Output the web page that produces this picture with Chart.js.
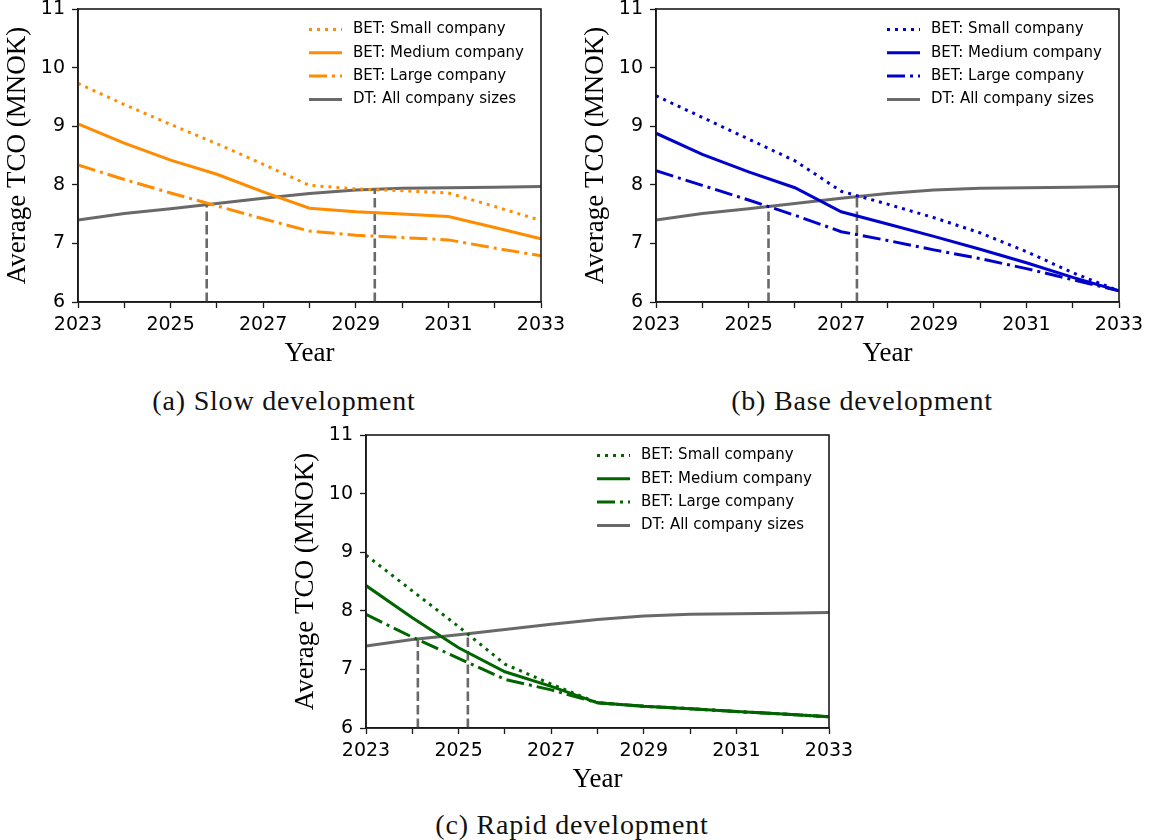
<!DOCTYPE html>
<html>
<head>
<meta charset="utf-8">
<script src="https://cdn.jsdelivr.net/npm/chart.js@4.4.1/dist/chart.umd.min.js"></script>
<style>
  html, body { margin: 0; padding: 0; background: #fff; overflow: hidden; }
  body { width: 1151px; height: 840px; position: relative; }
  .painel { position: absolute; }
  .legenda-fig { position: absolute; font-family: 'Liberation Serif', serif; font-size: 28px; letter-spacing: 0.8px;
                 color: #111; white-space: nowrap; transform: translate(-50%, -50%); }
</style>
</head>
<body>
<canvas id="graficoLento" class="painel" width="575" height="375" style="left:0px;top:0px"></canvas>
<canvas id="graficoBase" class="painel" width="573" height="375" style="left:578px;top:0px"></canvas>
<canvas id="graficoRapido" class="painel" width="575" height="375" style="left:288px;top:426px"></canvas>
<div class="legenda-fig" style="left:284px;top:401px">(a) Slow development</div>
<div class="legenda-fig" style="left:862px;top:401px">(b) Base development</div>
<div class="legenda-fig" style="left:572px;top:825px">(c) Rapid development</div>
<script>
// years on the x axis
var anos = [2023, 2024, 2025, 2026, 2027, 2028, 2029, 2030, 2031, 2032, 2033];

// diesel truck, same in all scenarios
var dtTodos = [7.40, 7.51, 7.59, 7.68, 7.77, 7.85, 7.91, 7.94, 7.95, 7.96, 7.97];

// (a) slow development
var lentoPequena = [9.73, 9.37, 9.03, 8.70, 8.35, 7.99, 7.93, 7.90, 7.86, 7.63, 7.39];
var lentoMedia   = [9.04, 8.71, 8.42, 8.18, 7.88, 7.60, 7.54, 7.50, 7.46, 7.27, 7.08];
var lentoGrande  = [8.34, 8.09, 7.86, 7.64, 7.42, 7.21, 7.14, 7.10, 7.06, 6.92, 6.79];
var lentoCruzamento = [2025.78, 2029.41];
var lentoCruzamentoTco = [7.66, 7.93];

// (b) base development
var basePequena = [9.52, 9.15, 8.78, 8.41, 7.89, 7.67, 7.44, 7.18, 6.86, 6.50, 6.19];
var baseMedia   = [8.88, 8.52, 8.22, 7.95, 7.54, 7.33, 7.12, 6.90, 6.67, 6.42, 6.19];
var baseGrande  = [8.24, 7.99, 7.74, 7.48, 7.20, 7.05, 6.89, 6.74, 6.57, 6.38, 6.19];
var baseCruzamento = [2025.43, 2027.34];
var baseCruzamentoTco = [7.63, 7.80];

// (c) rapid development
var rapidoPequena = [8.95, 8.34, 7.73, 7.09, 6.75, 6.43, 6.37, 6.33, 6.28, 6.24, 6.19];
var rapidoMedia   = [8.43, 7.88, 7.37, 6.96, 6.71, 6.43, 6.37, 6.33, 6.28, 6.24, 6.19];
var rapidoGrande  = [7.94, 7.55, 7.19, 6.83, 6.65, 6.43, 6.37, 6.33, 6.28, 6.24, 6.19];
var rapidoCruzamento = [2024.12, 2025.20];
var rapidoCruzamentoTco = [7.53, 7.62];

var rotulos = ['BET: Small company', 'BET: Medium company', 'BET: Large company', 'DT: All company sizes'];
var eixoMin = 6, eixoMax = 11;

Chart.defaults.font.family = "'DejaVu Sans'";
Chart.defaults.animation = false;

function pontos(valores){
    return anos.map(function(a, i){ return {x: a, y: valores[i]}; });
}

// frame on all four sides + legend inside the plot
var moldura = {
    id: 'moldura',
    afterDatasetsDraw: function(chart){
        var a = chart.chartArea, ctx = chart.ctx;
        ctx.save();
        ctx.strokeStyle = '#1a1a1a';
        ctx.lineWidth = 1.6;
        ctx.strokeRect(a.left, a.top, a.right - a.left, a.bottom - a.top);
        ctx.font = '15px "DejaVu Sans"';
        ctx.textBaseline = 'middle';
        var itens = chart.data.datasets.filter(function(d){ return d.label; });
        itens.forEach(function(d, i){
            var y = a.top + 20.5 + i * 23.3;
            var x0 = a.right - 232;
            ctx.beginPath();
            ctx.setLineDash(d.borderDash || []);
            ctx.strokeStyle = d.borderColor;
            ctx.lineWidth = d.borderWidth;
            ctx.moveTo(x0, y);
            ctx.lineTo(x0 + 33, y);
            ctx.stroke();
            ctx.setLineDash([]);
            ctx.fillStyle = '#000';
            ctx.fillText(d.label, a.right - 188, y);
        });
        ctx.restore();
    }
};

function montarGrafico(id, cor, pequena, media, grande, cruzamento, cruzamentoTco, direita){
    var ctx = document.getElementById(id).getContext('2d');

    // The data for our dataset
    var conjuntos = [
        {label: rotulos[0], data: pontos(pequena), borderColor: cor, borderWidth: 3, borderDash: [3, 5]},
        {label: rotulos[1], data: pontos(media), borderColor: cor, borderWidth: 3},
        {label: rotulos[2], data: pontos(grande), borderColor: cor, borderWidth: 3, borderDash: [18, 5, 3, 5]},
        {label: rotulos[3], data: pontos(dtTodos), borderColor: '#696969', borderWidth: 3}
    ];
    cruzamento.forEach(function(c, i){
        conjuntos.push({data: [{x: c, y: eixoMin}, {x: c, y: cruzamentoTco[i]}], borderColor: '#696969',
                        borderWidth: 2.6, borderDash: [9.5, 4]});
    });

    var eixoCor = '#1a1a1a';
    return new Chart(ctx, {
        type: 'line',
        data: {datasets: conjuntos},
        plugins: [moldura],
        // Configuration options go here
        options: {
            responsive: false,
            layout: {padding: {top: 9, right: direita, left: 0, bottom: 0}},
            elements: {point: {radius: 0}, line: {tension: 0, fill: false}},
            plugins: {legend: {display: false}, tooltip: {enabled: false}},
            scales: {
                x: {
                    type: 'linear', min: anos[0], max: anos[anos.length - 1],
                    afterBuildTicks: function(s){ s.ticks = anos.map(function(v){ return {value: v}; }); },
                    ticks: {autoSkip: false, maxRotation: 0, color: '#000', font: {size: 19}, padding: 6,
                            callback: function(v){ return (v - anos[0]) % 2 === 0 ? String(v) : ''; }},
                    grid: {drawOnChartArea: false, drawTicks: true, tickLength: 6, tickWidth: 1.3, tickColor: eixoCor},
                    border: {display: true, color: eixoCor, width: 1.6},
                    title: {display: true, text: 'Year', color: '#000',
                            font: {family: "'Liberation Serif'", size: 27}, padding: {top: 0, bottom: 5}},
                    afterFit: function(s){ s.height = 73; s.paddingLeft = 0; s.paddingRight = 0; }
                },
                y: {
                    min: eixoMin, max: eixoMax,
                    ticks: {stepSize: 1, color: '#000', font: {size: 19}, padding: 7},
                    grid: {drawOnChartArea: false, drawTicks: true, tickLength: 6, tickWidth: 1.3, tickColor: eixoCor},
                    border: {display: true, color: eixoCor, width: 1.6},
                    title: {display: true, text: 'Average TCO (MNOK)', color: '#000',
                            font: {family: "'Liberation Serif'", size: 27}, padding: {top: 2, bottom: 0}},
                    afterFit: function(s){ s.width = 78; s.paddingTop = 0; s.paddingBottom = 0; }
                }
            }
        }
    });
}

var graficoLento = montarGrafico('graficoLento', '#ff8c00', lentoPequena, lentoMedia, lentoGrande,
                                 lentoCruzamento, lentoCruzamentoTco, 34);
var graficoBase = montarGrafico('graficoBase', '#0000cd', basePequena, baseMedia, baseGrande,
                                baseCruzamento, baseCruzamentoTco, 32);
var graficoRapido = montarGrafico('graficoRapido', '#006400', rapidoPequena, rapidoMedia, rapidoGrande,
                                  rapidoCruzamento, rapidoCruzamentoTco, 34);
</script>
</body>
</html>
